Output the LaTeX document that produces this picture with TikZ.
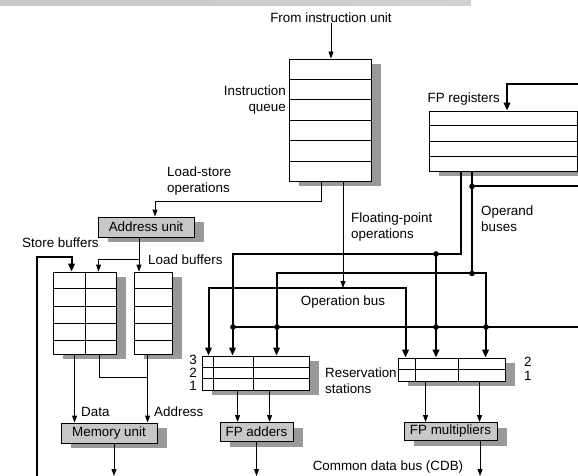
\documentclass[tikz,border=0pt]{standalone}
\usepackage{fontspec}
\setmainfont{Liberation Sans}
\usetikzlibrary{arrows.meta, positioning, calc, shadows}

\begin{document}
\begin{tikzpicture}[
    x=1pt, y=-1pt,
    every node/.style={font=\fontsize{13.4}{16}\selectfont},
    lbl/.style={inner sep=0pt, align=left},
    regbox/.style={rectangle, draw, fill=white, line width=0.9pt, inner sep=0pt,
      general shadow={fill=black!40, shadow xshift=10pt, shadow yshift=-5pt}},
    unit/.style={regbox, fill=black!22, inner sep=1pt},
    link/.style={line width=0.9pt},
    arrow/.style={-{Triangle[length=7pt,width=5pt]}, line width=0.9pt},
    bus/.style={line width=2pt},
    busarrow/.style={bus, -{Triangle[length=8pt,width=6.5pt]}}
  ]
  \useasboundingbox (0,0) rectangle (578,476);
  \shade[left color=black!22, middle color=black!42, right color=black!18] (0,0) rectangle (471,6);

  % register files and buffers
  \node[regbox, minimum width=82pt, minimum height=122pt] (queue) at (330,120) {};
  \foreach \i in {1,...,5}
    \draw[link] ($(queue.north west)!\i/6!(queue.south west)$) -- ($(queue.north east)!\i/6!(queue.south east)$);
  \node[regbox, minimum width=148pt, minimum height=60pt] (fpreg) at (503,141) {};
  \foreach \i in {1,2,3}
    \draw[link] ($(fpreg.north west)!\i/4!(fpreg.south west)$) -- ($(fpreg.north east)!\i/4!(fpreg.south east)$);
  \node[regbox, minimum width=63pt, minimum height=82pt] (stbuf) at (84.5,313) {};
  \node[regbox, minimum width=38pt, minimum height=82pt] (ldbuf) at (153,313) {};
  \foreach \r in {17,35,52,69} {
    \draw[link] ([yshift=-\r pt]stbuf.north west) -- ([yshift=-\r pt]stbuf.north east);
    \draw[link] ([yshift=-\r pt]ldbuf.north west) -- ([yshift=-\r pt]ldbuf.north east);
  }
  \draw[link] ([xshift=33pt]stbuf.north west) -- ([xshift=33pt]stbuf.south west);

  % reservation stations
  \node[regbox, minimum width=107pt, minimum height=34pt] (addrs) at (255.5,373) {};
  \foreach \i in {1,2}
    \draw[link] ($(addrs.north west)!\i/3!(addrs.south west)$) -- ($(addrs.north east)!\i/3!(addrs.south east)$);
  \foreach \c in {12,52}
    \draw[link] ([xshift=\c pt]addrs.north west) -- ([xshift=\c pt]addrs.south west);
  \node[regbox, minimum width=107pt, minimum height=23pt] (mulrs) at (451.5,369.5) {};
  \draw[link] (mulrs.west) -- (mulrs.east);
  \foreach \c in {18,61}
    \draw[link] ([xshift=\c pt]mulrs.north west) -- ([xshift=\c pt]mulrs.south west);

  % functional units
  \node[unit, minimum width=96pt, minimum height=20pt] (addr) at (146,227) {Address unit};
  \node[unit, minimum width=96pt, minimum height=20pt] (mem) at (109,433) {Memory unit};
  \node[unit, minimum width=73pt, minimum height=19pt] (fpadd) at (256.5,432) {FP adders};
  \node[unit, minimum width=93pt, minimum height=18pt] (fpmul) at (450.5,431.5) {FP multipliers};

  % labels
  \node[lbl] (fromlbl) at (331,18) {From instruction unit};
  \node[lbl, align=right, anchor=east] (queuelbl) at (286,100) {Instruction\\queue};
  \node[lbl, anchor=east] (fpreglbl) at (500,99) {FP registers};
  \node[lbl, anchor=west] (lslbl) at (167,181.5) {Load-store\\operations};
  \node[lbl, anchor=west] (fplbl) at (351,227) {Floating-point\\operations};
  \node[lbl, anchor=west] (oplbl) at (481,219) {Operand\\buses};
  \node[lbl, anchor=west] (stlbl) at (22,243) {Store buffers};
  \node[lbl, anchor=west] (ldlbl) at (148,260) {Load buffers};
  \node[lbl] (opbuslbl) at (343,302) {Operation bus};
  \node[lbl, anchor=west] (rslbl) at (325,381) {Reservation\\stations};
  \node[lbl, align=right, anchor=east, font=\fontsize{13.4}{13}\selectfont] (addnum) at (197,373) {3\\2\\1};
  \node[lbl, anchor=west, font=\fontsize{13.4}{14}\selectfont] (mulnum) at (524,369) {2\\1};
  \node[lbl, anchor=west] (datalbl) at (81,412) {Data};
  \node[lbl, anchor=west] (adrlbl) at (154,412) {Address};
  \node[lbl] (cdblbl) at (388,467) {Common data bus (CDB)};

  % bus ends at the picture edges
  \coordinate (cdb) at (0,476);
  \coordinate (cdbleft) at (37,476);
  \coordinate (cdbtop) at (582,84);
  \coordinate (cdbmid) at (582,186);
  \coordinate (cdbrs) at (582,327);

  % instruction flow
  \draw[arrow] (fromlbl) -- (fromlbl |- queue.north);
  \draw[arrow] ([xshift=-9pt]queue.south) -- ++(0,20) -| ([xshift=9pt]addr.north);
  \coordinate (opjoin) at (343,288);
  \draw[arrow] (opjoin |- queue.south) -- (opjoin);
  \draw[bus, {Triangle[length=8pt,width=6.5pt]}-{Triangle[length=8pt,width=6.5pt]}]
    ([xshift=7pt]addrs.north west) |- (opjoin) -| ([xshift=8pt]mulrs.north west);

  % load/store side
  \coordinate (addrout) at ([xshift=-7pt]addr.south);
  \draw[arrow] (addrout) -- (addrout |- ldbuf.north);
  \coordinate (addrsplit) at ([yshift=-22pt]addrout);
  \draw[arrow] (addrsplit) -| ([xshift=46pt]stbuf.north west);
  \draw[busarrow] (cdbleft) -- (37,257) -| ([xshift=19pt]stbuf.north west);
  \coordinate (dataout) at ([xshift=22pt]stbuf.south west);
  \draw[arrow] (dataout) -- (dataout |- mem.north);
  \coordinate (stadr) at ([xshift=47pt]stbuf.south west);
  \coordinate (ldadr) at ([xshift=14pt]ldbuf.south west);
  \draw[link] (stadr) |- ([yshift=-23pt]ldadr);
  \draw[arrow] (ldadr) -- (ldadr |- mem.north);
  \coordinate (memout) at ([xshift=5pt]mem.south);
  \draw[arrow] (memout) -- (memout |- cdb);

  % operand buses
  \draw[busarrow] (cdbtop) -| ([xshift=4pt]fpreg.north);
  \draw[busarrow] ([xshift=-42pt]fpreg.south) -- ++(0,83) -| ([xshift=31pt]addrs.north west);
  \coordinate (tapA) at (436,254);
  \draw[busarrow] (tapA) -- (tapA |- mulrs.north);
  \draw[bus] ([xshift=-31pt]fpreg.south) -- ++(0,102) coordinate (tapB);
  \draw[busarrow] (tapB) -| ([xshift=75pt]addrs.north west);
  \draw[busarrow] (tapB) -| ([xshift=88pt]mulrs.north west);
  \coordinate (tapC) at ([yshift=-15pt]fpreg.south -| tapB);
  \draw[bus] (cdbmid) -- (cdbmid -| tapC);
  \draw[bus] (cdbrs) -- (233,327);
  \foreach \p in {tapA, tapB, tapC}
    \fill (\p) circle (2.8);
  \foreach \x in {233,277,436,486}
    \fill (\x,327) circle (2.8);

  % units to the common data bus
  \foreach \dx in {36,68} {
    \coordinate (rsout) at ([xshift=\dx pt]addrs.south west);
    \draw[arrow] (rsout) -- (rsout |- fpadd.north);
  }
  \foreach \dx in {28,82} {
    \coordinate (rsout) at ([xshift=\dx pt]mulrs.south west);
    \draw[arrow] (rsout) -- (rsout |- fpmul.north);
  }
  \draw[arrow] (fpadd.south) -- (fpadd.south |- cdb);
  \coordinate (mulout) at ([xshift=29.5pt]fpmul.south);
  \draw[arrow] (mulout) -- (mulout |- cdb);
\end{tikzpicture}
\end{document}
